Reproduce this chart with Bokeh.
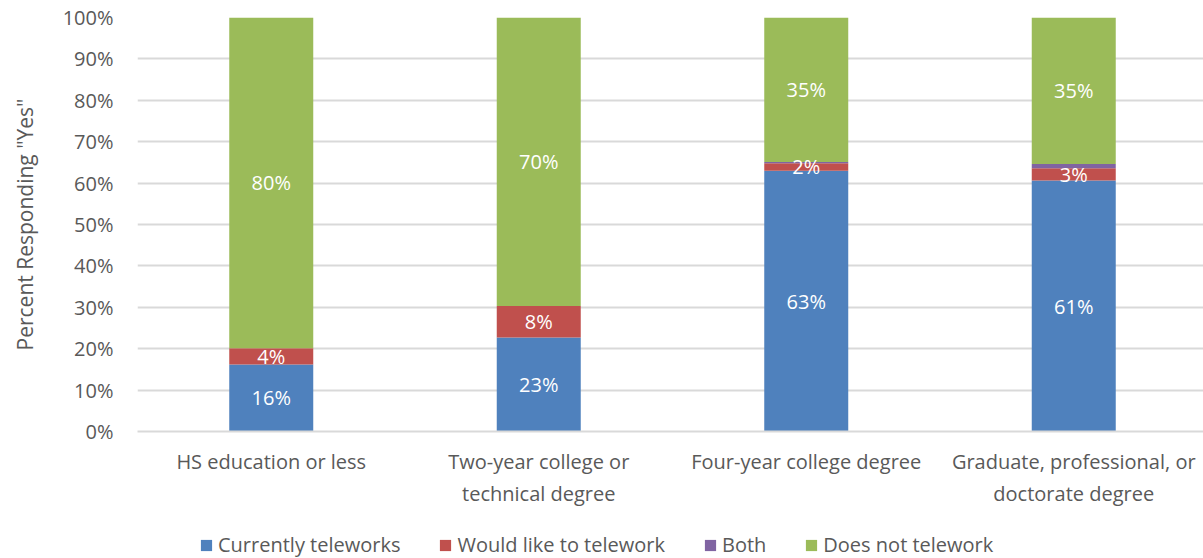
from bokeh.plotting import figure
from bokeh.layouts import column
from bokeh.models import (ColumnDataSource, Range1d, FixedTicker, PrintfTickFormatter,
                          Legend, LegendItem)
from bokeh.core.properties import value
from bokeh.embed import file_html
from bokeh.resources import INLINE

categories = ["HS education or less", "Two-year college or\ntechnical degree",
              "Four-year college degree", "Graduate, professional, or\ndoctorate degree"]
series_names = ["Currently teleworks", "Would like to telework", "Both", "Does not telework"]
currently = [16.2, 22.7, 63.0, 60.6]
would_like = [3.9, 7.6, 1.8, 3.0]
both = [0.0, 0.0, 0.3, 1.0]
does_not = [79.9, 69.7, 34.9, 35.4]
y_ticks = [0, 10, 20, 30, 40, 50, 60, 70, 80, 90, 100]

colors = ["#4F81BD", "#C0504D", "#8064A2", "#9BBB59"]
FONT = "Open Sans"
TXT = "#595959"

xs = [i + 0.5 for i in range(len(categories))]
keys = ["c", "w", "b", "d"]
data = dict(x=xs, c=currently, w=would_like, b=both, d=does_not)
src = ColumnDataSource(data)

p = figure(frame_width=1066, frame_height=414, output_backend="svg", toolbar_location=None,
           x_range=Range1d(0, 1066 / 267.5), y_range=Range1d(0, 100),
           min_border_left=137, min_border_right=0, min_border_top=17, min_border_bottom=0)
p.outline_line_color = None
p.background_fill_color = "white"
p.border_fill_color = "white"

rs = p.vbar_stack(keys, x="x", width=0.314, color=colors, source=src, line_color=None)

# data labels
lab_x, lab_y, lab_t = [], [], []
for i, x in enumerate(xs):
    base = 0.0
    for k, arr in zip(keys, [currently, would_like, both, does_not]):
        v = arr[i]
        if k != "b":
            lab_x.append(x)
            lab_y.append(base + v / 2)
            lab_t.append(f"{int(round(v))}%")
        base += v
lsrc = ColumnDataSource(dict(x=lab_x, y=lab_y, t=lab_t))
p.text(x="x", y="y", text="t", source=lsrc, text_align="center", text_baseline="middle",
       text_color="white", text_font=value(FONT), text_font_size="20px")

# axes
p.yaxis.ticker = FixedTicker(ticks=y_ticks)
p.yaxis.formatter = PrintfTickFormatter(format="%d%%")
p.yaxis.axis_line_color = None
p.yaxis.major_tick_line_color = None
p.yaxis.minor_tick_line_color = None
p.yaxis.major_label_standoff = 18
p.yaxis.major_label_text_font = FONT
p.yaxis.major_label_text_font_size = "20px"
p.yaxis.major_label_text_color = TXT
p.yaxis.axis_label = 'Percent Responding "Yes"'
p.yaxis.axis_label_text_font = FONT
p.yaxis.axis_label_text_font_size = "21px"
p.yaxis.axis_label_text_font_style = "normal"
p.yaxis.axis_label_text_color = TXT
p.yaxis.axis_label_standoff = 21

p.xaxis.ticker = FixedTicker(ticks=xs)
p.xaxis.major_label_overrides = {x: c for x, c in zip(xs, categories)}
p.xaxis.axis_line_color = "#D9D9D9"
p.xaxis.axis_line_width = 2
p.xaxis.major_tick_line_color = None
p.xaxis.minor_tick_line_color = None
p.xaxis.major_label_standoff = 10
p.xaxis.major_label_text_font = FONT
p.xaxis.major_label_text_font_size = "20px"
p.xaxis.major_label_text_color = TXT

p.xgrid.grid_line_color = None
p.ygrid.grid_line_color = "#D9D9D9"
p.ygrid.grid_line_width = 2

# legend strip (separate figure so the legend is not clipped by the plot frame)
lg = figure(width=1203, height=49, output_backend="svg", toolbar_location=None,
            x_range=Range1d(0, 1), y_range=Range1d(1000, 1001),
            x_axis_location=None, y_axis_location=None,
            min_border_left=0, min_border_right=0, min_border_top=0, min_border_bottom=0)
lg.outline_line_color = None
lg.xgrid.grid_line_color = None
lg.ygrid.grid_line_color = None
lrs = lg.vbar_stack(keys, x="x", width=0.314, color=colors, source=src, line_color=None)

legend = Legend(items=[LegendItem(label=n, renderers=[r]) for n, r in zip(series_names, lrs)],
                orientation="horizontal", location=(62, 0))
legend.border_line_color = None
legend.background_fill_alpha = 0
legend.padding = 0
legend.margin = 0
legend.spacing = 38
legend.label_standoff = 5
legend.glyph_width = 14
legend.glyph_height = 14
legend.label_text_font = FONT
legend.label_text_font_size = "20px"
legend.label_text_color = TXT
lg.add_layout(legend, "center")

layout = column(p, lg, spacing=0)
open("out.html", "w").write(file_html(layout, INLINE))
